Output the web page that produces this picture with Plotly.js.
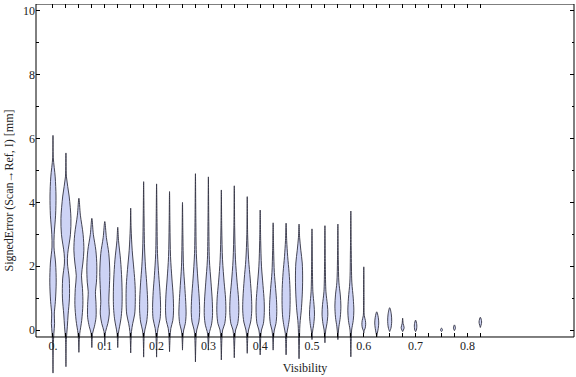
<!DOCTYPE html>
<html>
<head>
<meta charset="utf-8">
<script src="https://cdn.plot.ly/plotly-3.0.1.min.js"></script>
<style>html,body{margin:0;padding:0;background:#fff;}#chart{width:576px;height:377px;}</style>
</head>
<body>
<div id="chart"></div>
<script>
// Violin centres (Visibility)
const positions = [0,0.025,0.05,0.075,0.1,0.125,0.15,0.175,0.2,0.225,0.25,0.275,0.3,0.325,0.35,0.375,0.4,0.425,0.45,0.475,0.5,0.525,0.55,0.575,0.6,0.625,0.65,0.675,0.7,0.75,0.775,0.825];

// Density profiles: signed error levels (mm), top to bottom
const profileY = [
 [6.1,5.4,4.8,4.2,3.6,3.0,2.6,2.1,1.5,0.9,0.5,0.2,-0.1,-0.5,-1.35],
 [5.55,4.8,4.2,3.5,3.0,2.4,2.1,1.6,1.0,0.5,0.1,-0.3,-1.15],
 [4.13,3.6,3.0,2.5,2.1,1.7,1.3,0.8,0.3,-0.1,-0.3,-0.7],
 [3.5,3.0,2.5,2.0,1.5,1.2,0.8,0.4,0.1,-0.1,-0.55],
 [3.4,2.9,2.4,1.8,1.3,0.9,0.5,0.2,-0.05,-0.5],
 [3.22,2.8,2.2,1.6,1.1,0.7,0.35,0.1,-0.1,-0.55],
 [3.82,3.2,2.5,1.9,1.4,0.9,0.5,0.2,-0.05,-0.72],
 [4.65,3.6,2.6,2.0,1.5,1.0,0.6,0.25,0.0,-0.2,-0.85],
 [4.58,3.5,2.4,1.7,1.2,0.7,0.35,0.05,-0.2,-0.85],
 [4.34,3.3,2.3,1.6,1.1,0.6,0.3,0.05,-0.2,-0.68],
 [4.0,3.0,2.0,1.4,0.9,0.5,0.2,0.0,-0.2,-0.63],
 [4.9,3.5,2.4,1.6,1.0,0.55,0.25,0.0,-0.25,-1.0],
 [4.8,3.4,2.2,1.5,0.9,0.45,0.15,-0.05,-0.2,-0.63],
 [4.39,3.2,2.2,1.5,1.0,0.55,0.2,0.0,-0.25,-0.94],
 [4.52,3.2,2.2,1.5,1.0,0.55,0.2,0.0,-0.25,-0.87],
 [4.18,3.0,2.2,1.6,1.0,0.6,0.25,0.0,-0.2,-0.73],
 [3.76,2.8,2.0,1.4,0.9,0.55,0.2,0.0,-0.2,-0.78],
 [3.36,2.5,1.8,1.3,0.85,0.5,0.2,0.0,-0.2,-0.63],
 [3.35,2.8,2.3,1.8,1.3,0.8,0.4,0.1,-0.1,-0.3,-0.78],
 [3.32,2.9,2.5,2.1,1.6,1.1,0.6,0.3,0.05,-0.2,-0.9],
 [3.17,2.0,1.2,0.8,0.5,0.2,0.0,-0.1,-0.3],
 [3.27,2.0,1.2,0.8,0.5,0.2,0.0,-0.15,-0.4],
 [3.32,2.2,1.5,1.1,0.75,0.4,0.1,-0.1,-0.3],
 [3.73,2.5,1.5,1.0,0.6,0.3,0.0,-0.2,-0.84],
 [1.98,1.0,0.45,0.3,0.18,0.06,-0.02,-0.1],
 [0.57,0.4,0.22,0.05,-0.1,-0.21],
 [0.7,0.5,0.26,0.05,-0.05],
 [0.37,0.2,0.07,-0.05],
 [0.31,0.16,0.0,-0.05],
 [0.06,0.0,-0.05],
 [0.16,0.06,-0.02],
 [0.4,0.25,0.08]
];
// Relative density (half-width) at each level
const profileW = [
 [0,0.3,2.2,3,2.6,1.2,1,2.6,3.2,2.4,1.3,1.6,0.9,0.3,0],
 [0,0.5,3.2,5,4.5,1.8,1.5,3.3,3.5,2.2,1.4,0.4,0],
 [0,1.5,4.2,5,4,2.6,3.6,4,2.8,0.9,0.4,0],
 [0,1.5,4,5,4.6,3.6,4.2,4.2,2.5,0.8,0],
 [0,1.6,4,5,4.5,4,4.5,3,0.8,0],
 [0,0.8,2.8,4,4.4,4.2,3.2,1.8,0.7,0],
 [0,0.4,1.5,3.2,4.4,4.6,4,2,0.8,0],
 [0,0.4,0.9,1.8,3.0,3.9,4.0,3.0,1.2,0.5,0],
 [0,0.4,0.9,2.2,3.4,4.0,3.5,1.4,0.6,0],
 [0,0.4,1.0,2.4,3.6,4.0,3.3,1.3,0.6,0],
 [0,0.4,1.0,2.2,3.2,3.6,2.8,1.2,0.5,0],
 [0,0.4,0.9,2.4,3.8,4.2,3.4,1.3,0.6,0],
 [0,0.4,1.0,2.6,3.9,4.1,3.0,1.2,0.6,0],
 [0,0.4,1.2,2.8,4.2,4.5,3.4,1.3,0.6,0],
 [0,0.4,1.2,2.8,4.2,4.5,3.4,1.3,0.6,0],
 [0,0.4,1.4,3.0,4.3,4.5,3.4,1.3,0.6,0],
 [0,0.5,1.3,2.8,4.0,4.1,3.2,1.3,0.6,0],
 [0,0.5,1.2,2.5,3.5,3.6,2.8,1.2,0.5,0],
 [0,0.6,1.6,3.0,3.9,4.0,3.4,2.0,0.8,0.5,0],
 [0,0.6,1.8,3.2,3.6,3.2,2.2,1.2,0.7,0.5,0],
 [0,0.4,0.9,2.0,2.5,1.8,0.8,0.4,0],
 [0,0.4,1.0,2.4,2.9,2.0,0.8,0.4,0],
 [0,0.4,1.0,2.4,3.0,2.4,1.0,0.4,0],
 [0,0.4,1.0,2.4,3.0,2.4,0.8,0.5,0],
 [0,0.3,0.5,1.6,1.9,1.4,0.4,0],
 [0,1.5,2.0,1.5,0.6,0],
 [0,1.6,2.0,1.2,0],
 [0,0.5,1.5,0],
 [0,1.2,0.8,0],
 [0,1.0,0],
 [0,1.0,0],
 [0,1.3,0]
];

// Axis ticks
const xTickVals = [0,0.025,0.05,0.075,0.1,0.125,0.15,0.175,0.2,0.225,0.25,0.275,0.3,0.325,0.35,0.375,0.4,0.425,0.45,0.475,0.5,0.525,0.55,0.575,0.6,0.625,0.65,0.675,0.7,0.725,0.75,0.775,0.8,0.825];
const xTickText = ["0.","","","","0.1","","","","0.2","","","","0.3","","","","0.4","","","","0.5","","","","0.6","","","","0.7","","","","0.8",""];
const yTickVals = [0,2,4,6,8,10];
const yMinorVals = [1,3,5,7,9];

// styling constants
const WSCALE = 1/518; // density unit -> x units
const XR = [-0.0328, 1.0058];
const FRAME_Y = [-0.219, 10.219];
const YR = [-1.473, 10.219];
const font = {family: '"Liberation Serif", "Times New Roman", serif', size: 12, color: '#222'};

const traces = positions.map((p, i) => {
  const ys = profileY[i], ws = profileW[i];
  const xs = [], yy = [];
  for (let k = 0; k < ys.length; k++) { xs.push(p + ws[k]*WSCALE); yy.push(ys[k]); }
  for (let k = ys.length - 1; k >= 0; k--) { xs.push(p - ws[k]*WSCALE); yy.push(ys[k]); }
  return {
    type: 'scatter', mode: 'lines', x: xs, y: yy,
    fill: 'toself', fillcolor: '#cdd3f5',
    line: {color: 'rgba(50,50,65,0.9)', width: 1, shape: 'spline', smoothing: 0.9},
    hoverinfo: 'skip', showlegend: false
  };
});

const layout = {
  width: 576, height: 377,
  margin: {l: 36, r: 2, t: 4, b: 0, pad: 0},
  paper_bgcolor: '#fff', plot_bgcolor: '#fff',
  font: font,
  showlegend: false,
  xaxis: {
    range: XR, anchor: 'free', position: (FRAME_Y[0]-YR[0])/(YR[1]-YR[0]),
    showgrid: false, zeroline: false, showline: false,
    tickmode: 'array', tickvals: xTickVals, ticktext: xTickText,
    ticks: 'inside', ticklen: 4, tickwidth: 1, tickcolor: '#000',
    tickfont: font, automargin: false,
    title: {text: 'Visibility', font: font, standoff: 11}
  },
  xaxis2: {
    range: XR, overlaying: 'x', side: 'top', anchor: 'y',
    showgrid: false, zeroline: false, showline: false,
    tickmode: 'array', tickvals: xTickVals, showticklabels: false,
    ticks: 'inside', ticklen: 4, tickwidth: 1, tickcolor: '#000'
  },
  yaxis: {
    range: YR, anchor: 'x',
    showgrid: false, zeroline: false, showline: false,
    tickmode: 'array', tickvals: yTickVals,
    ticks: 'inside', ticklen: 4, tickwidth: 1, tickcolor: '#000',
    minor: {tickmode: 'array', tickvals: yMinorVals, ticks: 'inside', ticklen: 2.5, tickwidth: 1, tickcolor: '#000', showgrid: false},
    tickfont: font, automargin: false,
    title: {text: 'SignedError (Scan→Ref, I) [mm]', font: font, standoff: 6}
  },
  yaxis2: {
    range: YR, overlaying: 'y', side: 'right', anchor: 'x',
    showgrid: false, zeroline: false, showline: false,
    tickmode: 'array', tickvals: yTickVals, showticklabels: false,
    ticks: 'inside', ticklen: 4, tickwidth: 1, tickcolor: '#000',
    minor: {tickmode: 'array', tickvals: yMinorVals, ticks: 'inside', ticklen: 2.5, tickwidth: 1, tickcolor: '#000', showgrid: false}
  },
  shapes: [{
    type: 'rect', xref: 'paper', yref: 'y', x0: 0, x1: 1, y0: FRAME_Y[0], y1: FRAME_Y[1],
    line: {color: '#000', width: 1}, fillcolor: 'rgba(0,0,0,0)', layer: 'above'
  }]
};

// dummy trace to activate the mirror axes
traces.push({type: 'scatter', x: [XR[0]], y: [YR[1]+5], xaxis: 'x2', yaxis: 'y2', mode: 'markers', marker: {opacity: 0}, hoverinfo: 'skip', showlegend: false});

Plotly.newPlot('chart', traces, layout, {staticPlot: true, displayModeBar: false});
</script>
</body>
</html>
